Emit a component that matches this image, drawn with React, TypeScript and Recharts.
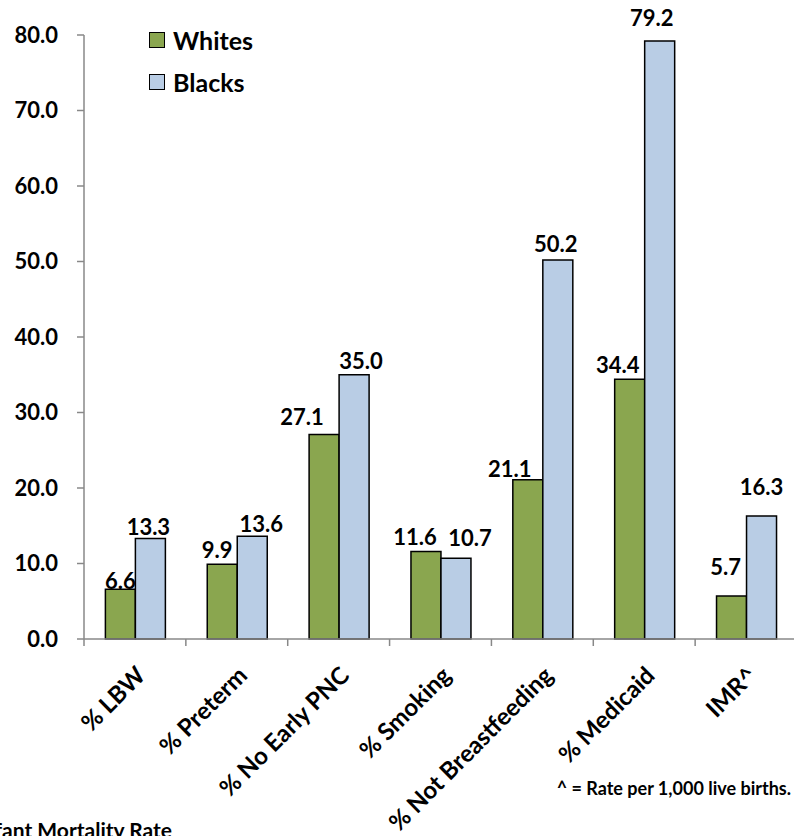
import { BarChart, Bar, XAxis, YAxis, LabelList } from 'recharts';

const categories = ['% LBW', '% Preterm', '% No Early PNC', '% Smoking', '% Not Breastfeeding', '% Medicaid', 'IMR^'];
const whites = [6.6, 9.9, 27.1, 11.6, 21.1, 34.4, 5.7];
const blacks = [13.3, 13.6, 35.0, 10.7, 50.2, 79.2, 16.3];
const yTicks = [0, 10, 20, 30, 40, 50, 60, 70, 80];

// hand-placed value labels in the original: [dx, gap above bar top]
const whiteLabelNudge = [[0, 0], [-5, 6], [-22, 9], [-11, 6], [-18, 3], [-12, 6], [-6, 21]];
const blackLabelNudge = [[-2, 4], [9, 4], [7, 6], [14, 12], [-2, 8], [-8, 15], [0, 21]];

const GREEN = '#8aa64f';
const BLUE = '#b9cde5';
const AXIS = '#888888';
const FONT = 'Lato, "Open Sans", sans-serif';

const data = categories.map((name, i) => ({ name, whites: whites[i], blacks: blacks[i] }));

const CategoryTick = (props: any) => {
  const { x, y, payload, index } = props;
  const half = payload?.offset ?? 0;
  const tx = x + 12;
  const ty = y + 38;
  return (
    <g>
      <line x1={x - half} x2={x - half} y1={y} y2={y + 7} stroke={AXIS} strokeWidth={1.5} />
      {index === categories.length - 1 && (
        <line x1={x + half} x2={x + half} y1={y} y2={y + 7} stroke={AXIS} strokeWidth={1.5} />
      )}
      <text
        x={tx}
        y={ty}
        transform={`rotate(-45 ${tx} ${ty})`}
        textAnchor="end"
        fontFamily={FONT}
        fontWeight={700}
        fontSize={24}
        fill="#000"
      >
        {payload.value}
      </text>
    </g>
  );
};

const makeLabel = (nudge: number[][]) => (props: any) => {
  const { x, y, width, value, index } = props;
  const [dx, gap] = nudge[index] || [0, 4];
  return (
    <text
      x={Number(x) + Number(width) / 2 + dx}
      y={Number(y) - gap}
      textAnchor="middle"
      fontFamily={FONT}
      fontWeight={700}
      fontSize={22}
      fill="#000"
    >
      {Number(value).toFixed(1)}
    </text>
  );
};

const legendItems = [
  { label: 'Whites', color: GREEN },
  { label: 'Blacks', color: BLUE },
];

export default function App() {
  return (
    <div
      style={{
        position: 'absolute',
        left: 0,
        top: 0,
        width: 794,
        height: 836,
        overflow: 'hidden',
        background: '#fff',
        fontFamily: FONT,
      }}
    >
      <BarChart
        width={800}
        height={836}
        data={data}
        margin={{ top: 35, right: 3, left: 0, bottom: 0 }}
        barCategoryGap="21%"
        barGap={0}
      >
        <YAxis
          width={84}
          domain={[0, 80]}
          ticks={yTicks}
          tickFormatter={(v: number) => v.toFixed(1)}
          axisLine={{ stroke: AXIS, strokeWidth: 1.5 }}
          tickLine={{ stroke: AXIS, strokeWidth: 1.5 }}
          tickSize={7}
          tickMargin={19}
          tick={{ fontFamily: FONT, fontWeight: 700, fontSize: 22, fill: '#000' }}
        />
        <XAxis
          dataKey="name"
          height={197}
          interval={0}
          tickSize={0}
          tickMargin={0}
          tickLine={false}
          axisLine={{ stroke: AXIS, strokeWidth: 1.5 }}
          tick={<CategoryTick />}
        />
        <Bar dataKey="whites" fill={GREEN} stroke="#000" strokeWidth={1.5} isAnimationActive={false}>
          <LabelList dataKey="whites" content={makeLabel(whiteLabelNudge)} />
        </Bar>
        <Bar dataKey="blacks" fill={BLUE} stroke="#000" strokeWidth={1.5} isAnimationActive={false}>
          <LabelList dataKey="blacks" content={makeLabel(blackLabelNudge)} />
        </Bar>
      </BarChart>

      <div style={{ position: 'absolute', left: 149, top: 19 }}>
        {legendItems.map((item) => (
          <div key={item.label} style={{ display: 'flex', alignItems: 'center', height: 42 }}>
            <span
              style={{
                display: 'inline-block',
                width: 14,
                height: 14,
                background: item.color,
                border: '1.5px solid #000',
                marginRight: 8,
              }}
            />
            <span style={{ fontWeight: 700, fontSize: 25, color: '#000' }}>{item.label}</span>
          </div>
        ))}
      </div>

      <div
        style={{
          position: 'absolute',
          right: 3,
          top: 777,
          fontWeight: 700,
          fontSize: 18,
          color: '#000',
          whiteSpace: 'nowrap',
        }}
      >
        ^ = Rate per 1,000 live births.
      </div>
      <div
        style={{
          position: 'absolute',
          right: 622,
          top: 817,
          fontWeight: 700,
          fontSize: 21,
          color: '#000',
          whiteSpace: 'nowrap',
        }}
      >
        ^IMR = Infant Mortality Rate
      </div>
    </div>
  );
}
